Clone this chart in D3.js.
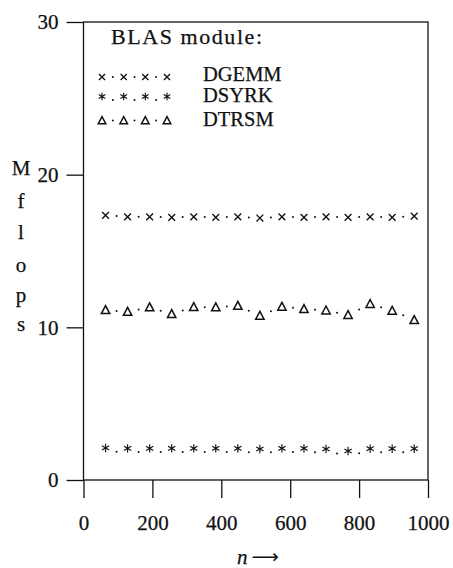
<!DOCTYPE html>
<html>
<head>
<meta charset="utf-8">
<script src="https://cdn.jsdelivr.net/npm/d3@7"></script>
<style>
  html, body { margin: 0; padding: 0; background: #fff; }
  svg { display: block; }
  text { font-family: "Liberation Serif", "Times New Roman", Times, serif; fill: #111; stroke: #111; stroke-width: 0.25px; }
</style>
</head>
<body>
<svg id="chart" width="453" height="568"></svg>
<script>
// Matrix sizes n and measured Mflop rates for each BLAS module
const sizes = [64, 128, 192, 256, 320, 384, 448, 512, 576, 640, 704, 768, 832, 896, 960];
const dgemm = [17.33, 17.24, 17.24, 17.2, 17.24, 17.2, 17.24, 17.16, 17.24, 17.2, 17.24, 17.2, 17.24, 17.2, 17.28];
const dsyrk = [2.1, 2.07, 2.07, 2.07, 2.07, 2.07, 2.07, 2.03, 2.07, 2.07, 2.03, 1.9, 2.05, 2.05, 2.05];
const dtrsm = [11.13, 11.02, 11.31, 10.87, 11.33, 11.31, 11.41, 10.76, 11.35, 11.2, 11.11, 10.81, 11.53, 11.09, 10.48];
const xTicks = [0, 200, 400, 600, 800, 1000];
const yTicks = [0, 10, 20, 30];
const legendTitle = "BLAS module:";
const seriesNames = ["DGEMM", "DSYRK", "DTRSM"];
const yLabel = ["M", "f", "l", "o", "p", "s"];

const svg = d3.select("#chart");
const ink = "#111";

const x = d3.scaleLinear().domain([0, 1000]).range([83.5, 428]);
const y = d3.scaleLinear().domain([0, 30]).range([480, 22]);

// Marker shapes (centred on 0,0)
const markerPath = {
  times: s => `M${-s},${-s}L${s},${s}M${-s},${s}L${s},${-s}`,
  star: s => {
    let p = `M0,${-s}L0,${s}`;
    [30, 150].forEach(a => {
      const r = a * Math.PI / 180;
      p += `M${-s * Math.cos(r)},${-s * Math.sin(r)}L${s * Math.cos(r)},${s * Math.sin(r)}`;
    });
    return p;
  },
  tri: s => `M0,${-s}L${s * 0.95},${s * 0.8}L${-s * 0.95},${s * 0.8}Z`
};

const series = [
  { name: seriesNames[0], values: dgemm, shape: "times", size: 3.4, width: 1.35, dotDy: 0 },
  { name: seriesNames[1], values: dsyrk, shape: "star", size: 4.2, width: 1.15, dotDy: 3.5 },
  { name: seriesNames[2], values: dtrsm, shape: "tri", size: 4.4, width: 1.5, dotDy: 0 }
];

// Frame
svg.append("rect")
  .attr("x", x(0)).attr("y", y(30))
  .attr("width", x(1000) - x(0)).attr("height", y(0) - y(30))
  .attr("fill", "none").attr("stroke", ink).attr("stroke-width", 1.3);

// Axes
const yAxis = svg.append("g")
  .attr("transform", `translate(${x(0)},0)`)
  .call(d3.axisLeft(y).tickValues(yTicks).tickFormat(d3.format("d")).tickSize(17).tickPadding(8));
const xAxis = svg.append("g")
  .attr("transform", `translate(0,${y(0)})`)
  .call(d3.axisBottom(x).tickValues(xTicks).tickFormat(d3.format("d")).tickSize(18).tickPadding(17));
[yAxis, xAxis].forEach(g => {
  g.select(".domain").remove();
  g.selectAll(".tick line").attr("stroke", ink).attr("stroke-width", 1.3);
  g.selectAll(".tick text").attr("fill", ink)
    .style("font-family", '"Liberation Serif", serif').style("font-size", "21px");
});

// Data: dotted connector (one dot midway) + markers
series.forEach(s => {
  const g = svg.append("g");
  const pts = sizes.map((n, i) => [x(n), y(s.values[i])]);
  d3.pairs(pts).forEach(([a, b]) => {
    g.append("circle")
      .attr("cx", (a[0] + b[0]) / 2).attr("cy", (a[1] + b[1]) / 2 + s.dotDy)
      .attr("r", 1).attr("fill", ink);
  });
  g.selectAll("path").data(pts).join("path")
    .attr("transform", d => `translate(${d[0]},${d[1]})`)
    .attr("d", markerPath[s.shape](s.size))
    .attr("fill", "none").attr("stroke", ink)
    .attr("stroke-width", s.width).attr("stroke-linejoin", "miter");
});

// Legend
svg.append("text").attr("x", 111).attr("y", 43.5)
  .style("font-size", "22px").attr("textLength", 151).attr("lengthAdjust", "spacing").text(legendTitle);
const legendRows = [77, 96.5, 120.5];
const legendBase = [81, 101.5, 125.5];
series.forEach((s, k) => {
  const cy = legendRows[k];
  const xs = [102, 123.7, 145.3, 167];
  d3.pairs(xs).forEach(([a, b]) => {
    svg.append("circle").attr("cx", (a + b) / 2).attr("cy", cy + s.dotDy)
      .attr("r", 1).attr("fill", ink);
  });
  xs.forEach(cx => {
    svg.append("path").attr("transform", `translate(${cx},${cy})`)
      .attr("d", markerPath[s.shape](s.size * 0.9))
      .attr("fill", "none").attr("stroke", ink).attr("stroke-width", s.width);
  });
  svg.append("text").attr("x", 203).attr("y", legendBase[k])
    .style("font-size", "20.5px").text(s.name);
});

// Vertical axis title, one letter per line
const letterBase = [175, 208, 239, 272, 302, 331];
yLabel.forEach((c, i) => {
  svg.append("text").attr("x", 21).attr("y", letterBase[i])
    .attr("text-anchor", "middle").style("font-size", "21px").text(c);
});

// Horizontal axis title
const xt = svg.append("text").attr("x", 237).attr("y", 564)
  .style("font-size", "21px");
xt.append("tspan").style("font-style", "italic").text("n");
xt.append("tspan").attr("dx", 4).attr("dy", -1)
  .style("font-family", '"DejaVu Sans", sans-serif').style("font-size", "19px").style("stroke-width", "0")
  .text("\u27F6");
</script>
</body>
</html>
